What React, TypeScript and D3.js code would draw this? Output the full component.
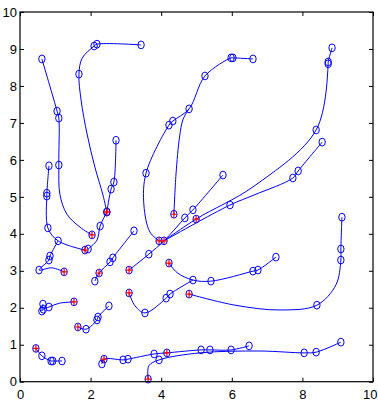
import { useEffect, useRef } from 'react';
import * as d3 from 'd3';

// each point: [x, y, marker]  marker: 0 = none (curve only), 1 = circle, 2 = circle with red cross
type Pt = [number, number, number];

const trackA: Pt[] = [[0.62, 8.73, 1], [1.05, 7.32, 1], [1.10, 7.13, 1], [1.10, 5.86, 1], [1.13, 5.07, 0], [1.33, 4.53, 0], [1.70, 4.18, 0], [2.04, 3.97, 2]];
const trackB: Pt[] = [[3.43, 9.11, 1], [2.18, 9.13, 1], [2.10, 9.08, 1], [1.76, 8.75, 0], [1.67, 8.32, 1], [1.73, 7.62, 0], [1.90, 6.70, 0], [2.12, 5.81, 0], [2.35, 5.05, 0], [2.46, 4.59, 2]];
const trackC: Pt[] = [[2.72, 6.53, 1], [2.66, 5.40, 1], [2.58, 5.21, 1], [2.46, 4.59, 2]];
const trackD: Pt[] = [[0.82, 5.84, 1], [0.76, 5.10, 1], [0.76, 5.02, 1], [0.79, 4.16, 1], [1.08, 3.81, 1], [1.84, 3.56, 2]];
const trackE: Pt[] = [[2.46, 4.59, 0], [2.27, 4.21, 1], [2.18, 3.83, 0], [1.93, 3.59, 1]];
const trackF: Pt[] = [[1.08, 3.81, 0], [0.85, 3.40, 1], [0.82, 3.29, 1], [0.54, 3.02, 1], [0.90, 3.08, 0], [1.25, 2.97, 2]];
const trackG: Pt[] = [[2.12, 2.72, 1], [2.24, 2.94, 2], [2.55, 3.24, 1], [2.63, 3.35, 1], [3.23, 4.08, 1]];
const trackS: Pt[] = [[0.65, 2.10, 1], [0.62, 1.91, 1], [0.66, 1.96, 1], [0.82, 2.02, 1], [1.10, 2.12, 0], [1.53, 2.16, 2]];
const trackT: Pt[] = [[1.64, 1.48, 2], [1.87, 1.42, 1], [2.18, 1.67, 1], [2.21, 1.75, 1], [2.52, 2.05, 1]];
const trackP: Pt[] = [[0.45, 0.90, 2], [0.62, 0.70, 1], [0.88, 0.56, 1], [0.93, 0.56, 1], [1.19, 0.56, 1]];
const trackQ: Pt[] = [[2.32, 0.48, 1], [2.38, 0.61, 2], [2.92, 0.59, 1], [3.06, 0.61, 1], [3.80, 0.75, 1], [4.16, 0.78, 2], [5.13, 0.86, 1], [5.38, 0.86, 1], [5.98, 0.86, 1], [6.49, 0.97, 1]];
const trackR: Pt[] = [[3.63, 0.07, 2], [3.65, 0.43, 0], [3.94, 0.59, 1], [5.10, 0.78, 0], [6.80, 0.83, 0], [8.05, 0.78, 1], [8.39, 0.80, 1], [9.09, 1.07, 1]];
const trackM: Pt[] = [[4.22, 3.21, 2], [4.45, 2.95, 0], [4.90, 2.75, 1], [5.41, 2.72, 1], [6.60, 2.99, 1], [6.74, 3.02, 1], [7.25, 3.37, 1]];
const trackN: Pt[] = [[3.09, 2.40, 2], [3.26, 2.05, 0], [3.54, 1.86, 1], [4.14, 2.26, 1], [4.25, 2.37, 1], [4.90, 2.75, 0]];
const trackO: Pt[] = [[4.79, 2.37, 2], [6.09, 2.07, 0], [7.37, 1.94, 0], [8.41, 2.07, 1], [8.95, 2.62, 0], [9.09, 3.29, 1], [9.09, 3.59, 1], [9.12, 4.45, 1]];
const trackL: Pt[] = [[6.60, 8.73, 1], [6.03, 8.76, 1], [5.98, 8.76, 1], [5.24, 8.27, 1], [4.79, 7.38, 1], [4.33, 7.05, 1], [4.22, 6.94, 1], [3.57, 5.64, 1], [3.51, 4.78, 0], [3.68, 4.05, 0], [3.94, 3.81, 2]];
const trackK: Pt[] = [[4.79, 7.38, 0], [4.62, 7.10, 0], [4.52, 6.62, 0], [4.42, 5.62, 0], [4.36, 4.53, 2]];
const trackH: Pt[] = [[5.75, 5.59, 1], [4.90, 4.65, 1], [4.67, 4.43, 1], [4.08, 3.81, 2], [3.65, 3.45, 1], [3.09, 3.02, 2]];
const trackU1: Pt[] = [[8.84, 9.03, 1], [8.73, 8.65, 1], [8.73, 8.60, 1], [8.39, 6.81, 1], [6.63, 5.29, 0], [4.99, 4.40, 2], [4.08, 3.81, 0]];
const trackU2: Pt[] = [[8.56, 6.48, 1], [7.88, 5.70, 1], [7.73, 5.51, 1], [6.63, 5.05, 0], [5.95, 4.78, 1], [4.08, 3.81, 0]];

const tracks = [trackA, trackB, trackC, trackD, trackE, trackF, trackG, trackS, trackT, trackP,
  trackQ, trackR, trackM, trackN, trackO, trackL, trackK, trackH, trackU1, trackU2];

const xTicks = [0, 2, 4, 6, 8, 10];
const yTicks = [0, 1, 2, 3, 4, 5, 6, 7, 8, 9, 10];

export default function App() {
  const svgRef = useRef<SVGSVGElement>(null);

  useEffect(() => {
    if (!svgRef.current) return;
    const width = 378;
    const height = 402;
    const m = { left: 20, right: 5, top: 12, bottom: 20.3 };

    const svg = d3.select(svgRef.current);
    svg.selectAll('*').remove();
    svg.attr('width', width).attr('height', height);

    svg.append('rect').attr('width', width).attr('height', height).attr('fill', '#fff');

    const x = d3.scaleLinear().domain([0, 10]).range([m.left, width - m.right]);
    const y = d3.scaleLinear().domain([0, 10]).range([height - m.bottom, m.top]);

    // curves
    const line = d3.line<Pt>()
      .x(d => x(d[0]))
      .y(d => y(d[1]))
      .curve(d3.curveCatmullRom.alpha(0.5));

    svg.append('g')
      .attr('fill', 'none')
      .attr('stroke', '#0000ff')
      .attr('stroke-width', 1)
      .selectAll('path')
      .data(tracks)
      .join('path')
      .attr('d', d => line(d));

    // circle markers
    const pts = tracks.flat().filter(d => d[2] > 0);
    svg.append('g')
      .selectAll('ellipse')
      .data(pts)
      .join('ellipse')
      .attr('cx', d => x(d[0]))
      .attr('cy', d => y(d[1]))
      .attr('rx', 3.2)
      .attr('ry', 3.9)
      .attr('fill', 'none')
      .attr('stroke', '#0000ff')
      .attr('stroke-width', 1);

    // red crosses
    svg.append('g')
      .selectAll('path')
      .data(pts.filter(d => d[2] === 2))
      .join('path')
      .attr('transform', d => `translate(${x(d[0])},${y(d[1])})`)
      .attr('d', 'M-3,0H3M0,-3.5V3.5')
      .attr('stroke', '#ff0000')
      .attr('stroke-width', 1.2);

    // axes (ticks inside, box on)
    const font = "'Liberation Sans', Arial, sans-serif";
    const styleAxis = (g: d3.Selection<SVGGElement, unknown, null, undefined>) => {
      g.select('.domain').remove();
      g.selectAll('line').attr('stroke', '#000');
      g.selectAll('text').attr('fill', '#000').style('font-family', font).style('font-size', '13px');
    };

    const xAxis = svg.append('g')
      .attr('transform', `translate(0,${height - m.bottom})`)
      .call(d3.axisBottom(x).tickValues(xTicks).tickSize(-4).tickPadding(8))
      .call(styleAxis);
    // last label sits at the window edge: keep it inside
    xAxis.selectAll<SVGTextElement, number>('text')
      .filter(d => d === 10)
      .attr('text-anchor', 'end')
      .attr('x', 4);

    svg.append('g')
      .attr('transform', `translate(0,${m.top})`)
      .call(d3.axisTop(x).tickValues(xTicks).tickSize(-4).tickFormat(() => ''))
      .call(styleAxis);
    svg.append('g')
      .attr('transform', `translate(${m.left},0)`)
      .call(d3.axisLeft(y).tickValues(yTicks).tickSize(-4).tickPadding(3))
      .call(styleAxis);
    svg.append('g')
      .attr('transform', `translate(${width - m.right},0)`)
      .call(d3.axisRight(y).tickValues(yTicks).tickSize(-4).tickFormat(() => ''))
      .call(styleAxis);

    svg.append('rect')
      .attr('x', m.left)
      .attr('y', m.top)
      .attr('width', width - m.left - m.right)
      .attr('height', height - m.top - m.bottom)
      .attr('fill', 'none')
      .attr('stroke', '#000')
      .attr('stroke-width', 1.2);
  }, []);

  return (
    <svg ref={svgRef} style={{ position: 'absolute', left: 0, top: 0 }} />
  );
}
